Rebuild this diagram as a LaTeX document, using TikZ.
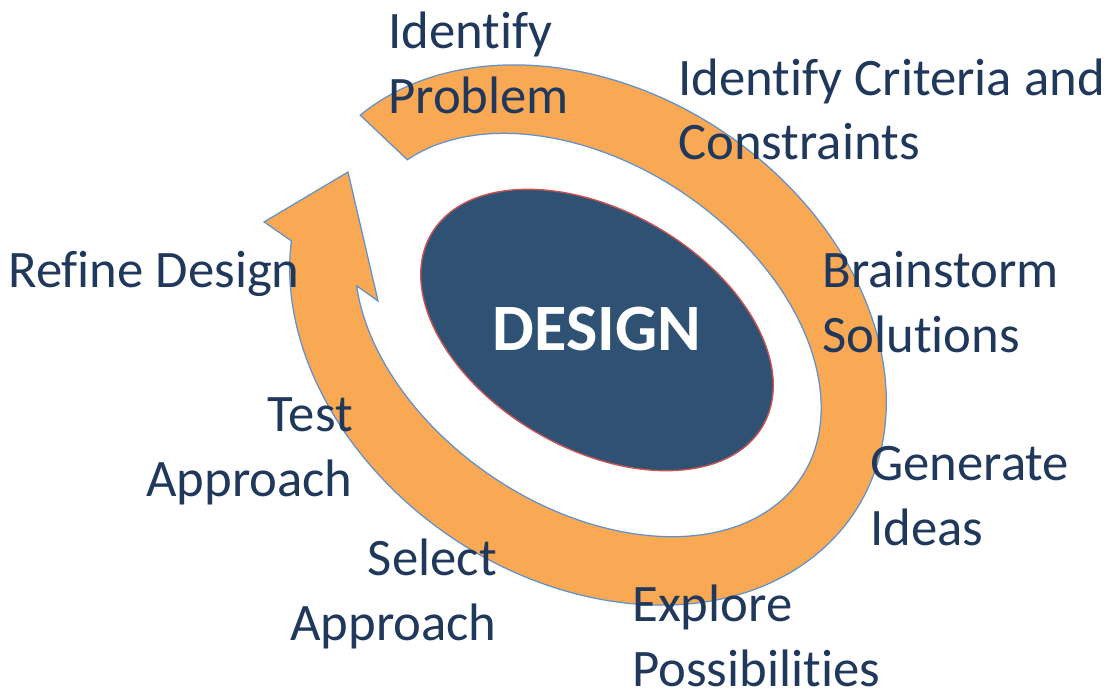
\documentclass[tikz,border=0pt]{standalone}
\usepackage{fontspec}
\setmainfont{Carlito}[Ligatures=NoCommon]
\usepackage{tikz}
\definecolor{ringorange}{RGB}{249,168,83}
\definecolor{ringblue}{RGB}{95,145,205}
\definecolor{designblue}{RGB}{47,81,115}
\definecolor{designred}{RGB}{199,84,80}
\definecolor{labelblue}{RGB}{31,56,91}

\begin{document}
\begin{tikzpicture}[x = .02cm, y = .02cm,
		lbl/.style = {text=labelblue, inner sep=0, font=\fontsize{30}{36.85}\selectfont}]
	\useasboundingbox (0,0) rectangle (1115,694);
	\begin{scope}[shift={(588,359)}, rotate=-34]
		\draw[fill=ringorange, draw=ringblue, line width=.7pt]
			(167:320 and 244) arc[start angle=167, end angle=-158.9, x radius=320, y radius=244]
			-- (-331.8,-87.4) -- (-290.1,0.9) -- (-193.1,-89.2)
			-- (-148.8:256.5 and 171) arc[start angle=-148.8, end angle=165, x radius=256.5, y radius=171]
			-- cycle;
	\end{scope}
	\draw[fill=designblue, draw=designred, line width=.8pt] (597,364) circle [x radius=191.5, y radius=119, rotate=-30];
	\node[anchor=base, inner sep=0, text=white, font=\bfseries\fontsize{37.7}{45}\selectfont] (design) at (597,344) {DESIGN};
	% anchor base = baseline of the last line
	\node[lbl, anchor=base west, align=left] (problem) at (388,580.5) {Identify\\Problem};
	\node[lbl, anchor=base west, align=left] (criteria) at (678,534) {Identify Criteria and\\Constraints};
	\node[lbl, anchor=base west, align=left] (brainstorm) at (822,341.5) {Brainstorm\\Solutions};
	\node[lbl, anchor=base west, align=left] (generate) at (870,149) {Generate\\Ideas};
	\node[lbl, anchor=base west, align=left] (explore) at (632,7.5) {Explore\\Possibilities};
	\node[lbl, anchor=base east, align=right] (select) at (497,54) {Select\\Approach};
	\node[lbl, anchor=base east, align=right] (test) at (353,197.3) {Test\\Approach};
	\node[lbl, anchor=base west] (refine) at (8,407) {Refine Design};
\end{tikzpicture}
\end{document}
